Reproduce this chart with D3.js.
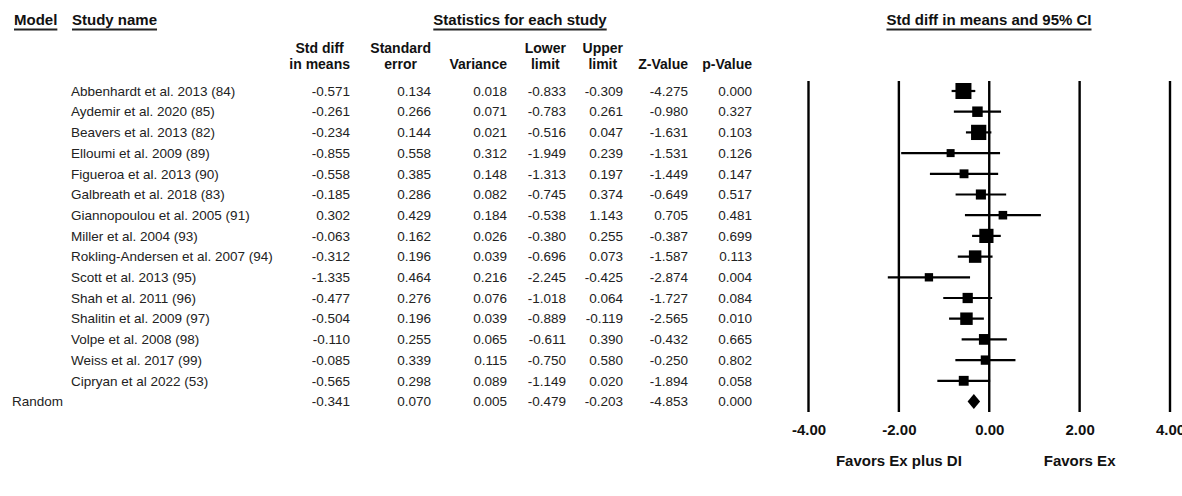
<!DOCTYPE html>
<html>
<head>
<meta charset="utf-8">
<script src="https://cdn.jsdelivr.net/npm/d3@7"></script>
<style>
  html, body { margin: 0; padding: 0; background: #fff; }
  svg { display: block; }
  text { font-family: "Liberation Sans", Arial, sans-serif; }
</style>
</head>
<body>
<svg id="chart" width="1182" height="496"></svg>
<script>
// Study-level results
const studies = [
  "Abbenhardt et al. 2013 (84)",
  "Aydemir et al. 2020 (85)",
  "Beavers et al. 2013 (82)",
  "Elloumi et al. 2009 (89)",
  "Figueroa et al. 2013 (90)",
  "Galbreath et al. 2018 (83)",
  "Giannopoulou et al. 2005 (91)",
  "Miller et al. 2004 (93)",
  "Rokling-Andersen et al. 2007 (94)",
  "Scott et al. 2013 (95)",
  "Shah et al. 2011 (96)",
  "Shalitin et al. 2009 (97)",
  "Volpe et al. 2008 (98)",
  "Weiss et al. 2017 (99)",
  "Cipryan et al 2022 (53)"
];
const stdDiff  = [-0.571, -0.261, -0.234, -0.855, -0.558, -0.185, 0.302, -0.063, -0.312, -1.335, -0.477, -0.504, -0.110, -0.085, -0.565];
const stdErr   = [0.134, 0.266, 0.144, 0.558, 0.385, 0.286, 0.429, 0.162, 0.196, 0.464, 0.276, 0.196, 0.255, 0.339, 0.298];
const variance = [0.018, 0.071, 0.021, 0.312, 0.148, 0.082, 0.184, 0.026, 0.039, 0.216, 0.076, 0.039, 0.065, 0.115, 0.089];
const lower    = [-0.833, -0.783, -0.516, -1.949, -1.313, -0.745, -0.538, -0.380, -0.696, -2.245, -1.018, -0.889, -0.611, -0.750, -1.149];
const upper    = [-0.309, 0.261, 0.047, 0.239, 0.197, 0.374, 1.143, 0.255, 0.073, -0.425, 0.064, -0.119, 0.390, 0.580, 0.020];
const zValue   = [-4.275, -0.980, -1.631, -1.531, -1.449, -0.649, 0.705, -0.387, -1.587, -2.874, -1.727, -2.565, -0.432, -0.250, -1.894];
const pValue   = [0.000, 0.327, 0.103, 0.126, 0.147, 0.517, 0.481, 0.699, 0.113, 0.004, 0.084, 0.010, 0.665, 0.802, 0.058];
// Relative random-effects weights (%), used for the box sizes
const weightPct = [15.3, 5.8, 14.0, 1.5, 3.0, 5.1, 2.5, 12.2, 9.2, 2.1, 5.4, 9.2, 6.2, 3.8, 4.7];

// Pooled random-effects result
const pooledLabel = "Random";
const pooled = { d: -0.341, se: 0.070, v: 0.005, lo: -0.479, hi: -0.203, z: -4.853, p: 0.000 };

// Axis
const axisTicks = [-4, -2, 0, 2, 4];
const favorsLeft = "Favors Ex plus DI";
const favorsRight = "Favors Ex";

const svg = d3.select("#chart");
const fmt = d3.format(".3f");
const fmtNum = v => fmt(v).replace("−", "-");

const DATA_FS = 13.5;
const HEAD_FS = 14;
const TITLE_FS = 15;

// Row positions: one per study plus the pooled row
const rowKeys = studies.concat([pooledLabel]);
const y = d3.scalePoint().domain(rowKeys).range([91, 401.5]);

// Forest plot x scale
const x = d3.scaleLinear().domain([-4, 4]).range([808.5, 1170]);

// Box size from weight
const boxSize = d3.scaleLinear().domain(d3.extent(weightPct)).range([8, 16]);

// ---- Headers ----
function underlinedText(g, tx, ty, str, anchor) {
  const t = g.append("text")
    .attr("x", tx).attr("y", ty)
    .attr("text-anchor", anchor || "start")
    .attr("font-size", TITLE_FS).attr("font-weight", "bold").attr("fill", "#111")
    .text(str);
  const w = t.node().getComputedTextLength();
  const x0 = anchor === "middle" ? tx - w / 2 : tx;
  g.append("line")
    .attr("x1", x0).attr("x2", x0 + w)
    .attr("y1", ty + 4.5).attr("y2", ty + 4.5)
    .attr("stroke", "#222").attr("stroke-width", 1.8);
}
const hdr = svg.append("g");
underlinedText(hdr, 14, 25, "Model");
underlinedText(hdr, 72, 25, "Study name");
underlinedText(hdr, 520, 25, "Statistics for each study", "middle");
underlinedText(hdr, 989, 25, "Std diff in means and 95% CI", "middle");

// Numeric columns: values right aligned, headings centred over the column
const columns = [
  { right: 350, head: ["Std diff", "in means"], vals: stdDiff, pooled: pooled.d },
  { right: 431, head: ["Standard", "error"], vals: stdErr, pooled: pooled.se },
  { right: 507, head: ["", "Variance"], vals: variance, pooled: pooled.v },
  { right: 566, head: ["Lower", "limit"], vals: lower, pooled: pooled.lo },
  { right: 623, head: ["Upper", "limit"], vals: upper, pooled: pooled.hi },
  { right: 688, head: ["", "Z-Value"], vals: zValue, pooled: pooled.z },
  { right: 752, head: ["", "p-Value"], vals: pValue, pooled: pooled.p }
];

columns.forEach(col => {
  const g = svg.append("g");
  // widest heading line sets the column's right edge
  const lines = col.head.map((line, i) => line ? g.append("text")
      .attr("y", 53 + i * 16)
      .attr("font-size", HEAD_FS).attr("font-weight", "bold").attr("fill", "#111")
      .attr("text-anchor", "middle")
      .text(line) : null);
  const widths = lines.map(t => t ? t.node().getComputedTextLength() : 0);
  const maxW = d3.max(widths);
  lines.forEach(t => { if (t) t.attr("x", col.right - maxW / 2); });

  g.selectAll("text.val")
    .data(col.vals.concat([col.pooled]))
    .join("text")
    .attr("class", "val")
    .attr("x", col.right)
    .attr("y", (d, i) => y(rowKeys[i]) + 4.7)
    .attr("text-anchor", "end")
    .attr("font-size", DATA_FS).attr("fill", "#222")
    .text(d => fmtNum(d));
});

// Study names
svg.append("g").selectAll("text")
  .data(studies)
  .join("text")
  .attr("x", 71)
  .attr("y", d => y(d) + 4.7)
  .attr("font-size", DATA_FS).attr("fill", "#222")
  .text(d => d);

svg.append("text")
  .attr("x", 12).attr("y", y(pooledLabel) + 4.7)
  .attr("font-size", DATA_FS).attr("fill", "#222")
  .text(pooledLabel);

// ---- Forest plot ----
const plot = svg.append("g");
const yTop = 81, yBottom = 412;

plot.selectAll("line.ref")
  .data(axisTicks)
  .join("line")
  .attr("class", "ref")
  .attr("x1", d => x(d)).attr("x2", d => x(d))
  .attr("y1", yTop).attr("y2", yBottom)
  .attr("stroke", "#000").attr("stroke-width", 2.4);

const rows = studies.map((s, i) => ({ name: s, d: stdDiff[i], lo: lower[i], hi: upper[i], w: weightPct[i] }));

plot.selectAll("line.ci")
  .data(rows)
  .join("line")
  .attr("class", "ci")
  .attr("x1", d => x(d.lo)).attr("x2", d => x(d.hi))
  .attr("y1", d => y(d.name)).attr("y2", d => y(d.name))
  .attr("stroke", "#000").attr("stroke-width", 2.2);

plot.selectAll("rect.box")
  .data(rows)
  .join("rect")
  .attr("class", "box")
  .attr("x", d => x(d.d) - boxSize(d.w) / 2)
  .attr("y", d => y(d.name) - boxSize(d.w) / 2)
  .attr("width", d => boxSize(d.w))
  .attr("height", d => boxSize(d.w))
  .attr("fill", "#000");

// Pooled diamond
const py = y(pooledLabel);
plot.append("path")
  .attr("d", `M${x(pooled.lo)},${py} L${x(pooled.d)},${py - 7.5} L${x(pooled.hi)},${py} L${x(pooled.d)},${py + 7.5} Z`)
  .attr("fill", "#000");

// Tick labels
const axis = d3.axisBottom(x).tickValues(axisTicks).tickSize(0).tickPadding(0);
const ax = svg.append("g").attr("transform", `translate(0,${430})`).call(axis);
ax.select(".domain").remove();
ax.selectAll("text")
  .attr("font-family", '"Liberation Sans", Arial, sans-serif')
  .attr("font-size", TITLE_FS).attr("font-weight", "bold").attr("fill", "#111")
  .attr("dy", "0.35em")
  .text(d => d3.format(".2f")(d).replace("−", "-"));

// Direction labels
svg.append("text")
  .attr("x", x(-2)).attr("y", 466)
  .attr("text-anchor", "middle")
  .attr("font-size", TITLE_FS).attr("font-weight", "bold").attr("fill", "#111")
  .text(favorsLeft);
svg.append("text")
  .attr("x", x(2)).attr("y", 466)
  .attr("text-anchor", "middle")
  .attr("font-size", TITLE_FS).attr("font-weight", "bold").attr("fill", "#111")
  .text(favorsRight);
</script>
</body>
</html>
